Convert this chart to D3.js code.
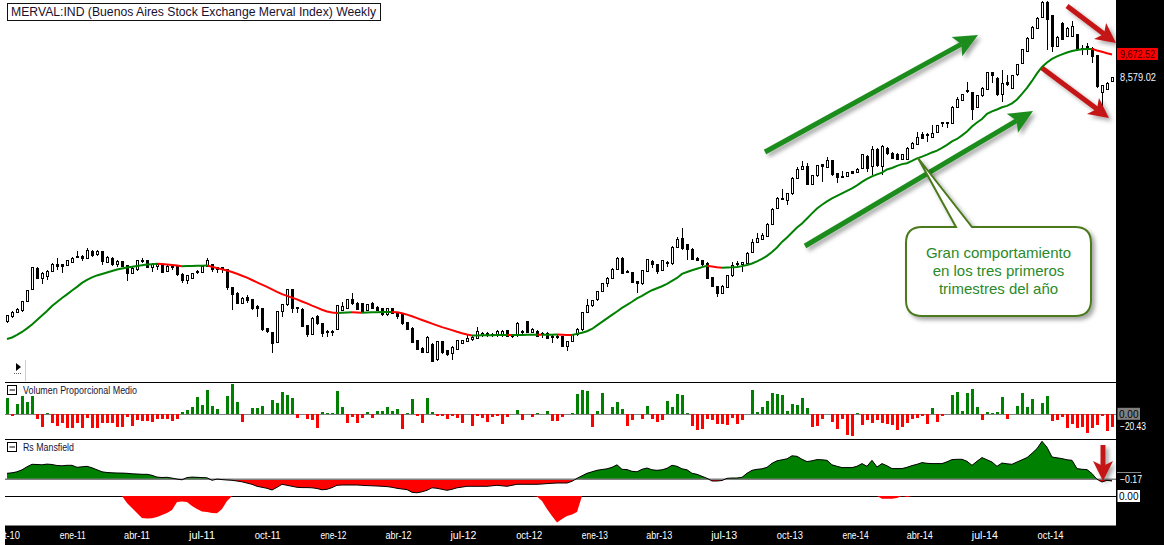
<!DOCTYPE html>
<html>
<head>
<meta charset="utf-8">
<script src="https://cdn.jsdelivr.net/npm/d3@7"></script>
<style>
body { margin: 0; background: #fff; }
svg text { font-family: "Liberation Sans", Arial, sans-serif; }
</style>
</head>
<body>
<svg id="chart" width="1164" height="545"></svg>
<script>
// weekly bars, Oct 2010 - Dec 2014 (Merval, log price)
const open = [2471,2539,2596,2626,2741,2909,3250,3088,3114,3194,3317,3305,3294,3351,3443,3448,3420,3537,3478,3537,
3351,3420,3305,3361,3294,3168,3221,3373,3373,3260,3284,3305,3194,3272,3277,3152,3050,3088,3189,3184,
3277,3317,3221,3260,3221,2944,2861,2718,2796,2764,2672,2640,2384,2345,2228,2604,2695,2909,2649,2636,
2422,2321,2539,2446,2357,2348,2381,2626,2649,2764,2718,2709,2617,2709,2663,2649,2561,2649,2583,2561,
2463,2393,2243,2161,2113,2206,2035,2235,2131,2099,2150,2217,2235,2254,2274,2301,2333,2309,2301,2301,
2364,2298,2301,2348,2475,2340,2352,2321,2333,2298,2281,2293,2179,2235,2313,2372,2591,2681,2764,2884,
3000,3088,3233,3420,3189,3178,3035,3000,3194,3361,3305,3210,3339,3322,3617,3787,3661,3580,3420,3378,
3334,3098,2959,2861,2950,3125,3305,3305,3334,3519,3704,3768,3819,4068,4414,4645,4588,4749,5143,5385,
5458,4989,5205,5506,5441,5626,5258,5188,5188,5320,5293,5413,5744,5458,5941,5458,5994,5844,5794,5667,
5667,5994,6119,6416,6406,6341,6492,6797,6821,6811,7390,7641,8021,7961,7390,7829,8098,8817,8568,7869,
8378,8141,8714,9250,9809,10508,11058,11697,12601,11776,10068,11344,10595,10595,10687,9949,10068,9983,9601,7961,
8099,8420];
const high = [2561,2613,2649,2754,2909,3277,3263,3181,3221,3331,3420,3322,3390,3443,3549,3478,3595,3567,3558,3549,
3452,3437,3390,3373,3305,3267,3390,3431,3390,3334,3322,3317,3297,3317,3289,3165,3141,3173,3221,3289,
3425,3327,3277,3277,3233,2955,2873,2800,2837,2778,2695,2649,2397,2352,2613,2709,2920,2924,2672,2647,
2434,2529,2561,2459,2372,2372,2695,2741,2778,2861,2741,2723,2709,2741,2677,2660,2660,2660,2594,2574,
2471,2403,2254,2172,2295,2215,2246,2246,2142,2181,2254,2254,2313,2295,2413,2342,2342,2333,2372,2366,
2372,2325,2465,2372,2484,2391,2372,2352,2342,2313,2313,2301,2243,2325,2391,2600,2774,2764,2895,3011,
3101,3246,3437,3434,3213,3194,3046,3221,3407,3390,3322,3395,3378,3632,3807,3985,3679,3595,3434,3390,
3348,3109,2970,2977,3141,3361,3378,3356,3523,3768,3897,3897,4085,4409,4664,4863,4773,5164,5458,5626,
5553,5231,5506,5534,5721,5646,5285,5346,5320,5346,5413,5823,5779,6066,6003,6081,6035,5867,5861,5823,
6019,6200,6524,6524,6492,6752,6752,6866,6866,7420,7801,7909,8420,8001,7869,8175,8848,8848,8603,8937,
8714,8714,9217,9949,10551,11161,11685,12677,12677,11836,10606,11391,11104,11494,10742,10156,10275,10025,9651,8281,
8387,8600];
const low = [2453,2522,2583,2604,2736,2902,3077,2996,3061,3184,3221,3168,3280,3339,3434,3373,3407,3448,3461,3305,
3339,3294,3277,3267,3050,3157,3205,3334,3250,3194,3221,3173,3184,3221,3130,3020,2996,3077,3157,3173,
3267,3194,3168,3168,2909,2626,2709,2709,2718,2626,2539,2360,2333,2107,2217,2539,2685,2583,2583,2403,
2293,2313,2434,2286,2293,2301,2372,2613,2640,2695,2626,2594,2607,2640,2607,2548,2548,2574,2505,2434,
2368,2215,2139,2105,2105,2011,2024,2099,2078,2035,2142,2209,2226,2243,2266,2289,2289,2289,2289,2289,
2283,2278,2289,2325,2331,2331,2283,2274,2266,2217,2262,2170,2134,2226,2301,2364,2583,2672,2754,2873,
2959,3077,3221,3157,3173,3008,2861,2985,3181,3250,3157,3197,3277,3305,3604,3567,3390,3390,3365,3289,
3077,2947,2812,2851,2939,3114,3289,3194,3322,3505,3689,3754,3803,4054,4398,4604,4489,4725,5125,5365,
4972,4972,5178,5055,5421,5205,5015,5151,5165,5245,5271,5393,5320,5232,5450,5232,5794,5676,5646,5646,
5646,5972,6097,6285,6200,6318,6466,6693,6638,6786,7363,7611,7961,6924,7363,7789,8069,8353,7829,7603,
8239,8111,8670,9217,9770,10470,11017,11655,9897,9813,10025,10415,10551,10551,9848,9651,9651,9250,8154,7428,
8069,8387];
const close = [2548,2596,2630,2741,2895,3260,3088,3157,3194,3317,3277,3277,3373,3420,3455,3407,3549,3466,3537,3361,
3431,3317,3361,3277,3168,3250,3373,3385,3260,3317,3305,3184,3277,3284,3152,3050,3125,3157,3200,3277,
3373,3221,3260,3221,2944,2847,2718,2788,2750,2640,2640,2372,2352,2217,2604,2695,2909,2649,2658,2413,
2313,2518,2455,2333,2348,2357,2681,2672,2764,2718,2636,2604,2695,2649,2617,2561,2649,2583,2539,2446,
2381,2224,2150,2113,2286,2017,2235,2113,2088,2172,2246,2246,2274,2286,2352,2333,2301,2317,2352,2352,
2293,2307,2455,2357,2340,2381,2293,2328,2274,2289,2289,2179,2235,2313,2381,2591,2681,2754,2884,3000,
3088,3233,3420,3168,3200,3020,3000,3210,3390,3305,3194,3378,3351,3617,3768,3599,3567,3402,3378,3305,
3088,2959,2861,2959,3125,3289,3334,3344,3508,3704,3787,3832,4068,4391,4645,4621,4749,5143,5385,5458,
4989,5205,5478,5458,5626,5231,5170,5170,5293,5276,5385,5794,5413,5941,5486,6044,5823,5696,5667,5794,
5994,6150,6328,6308,6426,6472,6718,6821,6797,7390,7668,7869,8049,7287,7829,8141,8817,8670,7869,8353,
8281,8670,9171,9897,10508,11115,11636,12601,11534,10068,10562,10453,11058,11150,9897,9918,9897,9567,8209,8239,
8353,8579.02];
const movingAvg = [2266,2283,2313,2348,2391,2440,2496,2554,2613,2681,2736,2793,2844,2902,2955,3015,3061,3101,3133,3157,
3181,3205,3229,3246,3263,3275,3289,3300,3311,3318,3324,3320,3312,3303,3294,3285,3287,3289,3291,3293,
3294,3275,3252,3232,3213,3189,3160,3128,3098,3061,3023,2988,2955,2917,2880,2847,2822,2798,2772,2743,
2716,2685,2658,2630,2606,2594,2588,2590,2593,2595,2593,2591,2593,2595,2597,2599,2600,2601,2597,2584,
2565,2543,2520,2496,2473,2450,2428,2406,2388,2370,2350,2332,2318,2306,2307,2308,2309,2310,2311,2312,
2313,2311,2312,2313,2314,2315,2316,2314,2315,2316,2317,2315,2313,2311,2325,2339,2357,2384,2428,2471,
2516,2561,2607,2654,2695,2739,2787,2822,2865,2905,2935,2965,3000,3046,3093,3157,3189,3216,3241,3268,
3292,3280,3268,3259,3262,3266,3272,3285,3305,3329,3365,3408,3461,3532,3614,3717,3803,3901,4002,4085,
4190,4299,4409,4494,4570,4640,4700,4761,4821,4883,4959,5047,5125,5191,5245,5293,5379,5421,5477,5528,
5553,5618,5690,5743,5802,5867,5920,6003,6096,6205,6285,6400,6531,6700,6838,6960,7142,7233,7306,7390,
7439,7535,7688,7909,8154,8450,8781,9076,9287,9453,9575,9673,9771,9844,9893,9929,9945,9950,9869,9805,
9732,9672.52];
const volumeProp = [26.4,-2,16.5,30.7,20.8,30.7,-7.7,-20.4,2.8,-13.8,-19.2,-13.8,-23.1,-23.1,-13.8,-23.1,-6.6,-23.1,-22,-14.9,
-13.8,-13.8,-20.4,-20.4,-3.9,-18.7,-9.4,-11,-11,-12.1,-8.3,-8.3,-8.3,-10.5,-8.3,4.4,7.2,12.7,29.2,15.4,
40.2,13.8,8.8,0,30.8,49.5,20.9,-12.1,0,11,9.9,14.3,0,23.7,18.2,37.4,31.9,27.5,-5.5,0,
-7.7,-9.4,-23.1,4.4,2.2,2.2,38.5,12.7,-13.8,-3.9,-13.8,-5.5,4.4,-6.6,5.5,5.5,12.1,5.5,8.8,-23.7,
2.8,25.9,-2.2,-14.3,27.5,3.3,-2.2,-2.2,-7.2,-2.2,-5.5,-14.3,0,-19.2,-2.2,-5.5,-12.7,-4.4,-2.2,-15.4,
-4.4,0,7.7,-8.8,0,-4.4,1.7,0,6,-11,-11,-4.4,0,1.7,33,40.7,38,-20.9,5,35.8,
0,12.1,19.8,8.8,-19.2,-9.4,0,-7.7,13.2,-7.7,-12.7,-9.4,21.5,12.1,33,31.4,2.2,-19.2,-25.9,-24.2,
-7.7,-9.4,-16,-16,-17.6,-6,-16,-9.4,0,39.6,3.3,11.6,21.5,34.7,33,31.4,5,16.5,14.9,26.4,
9.9,-20.9,-19.2,-7.7,0,-12.7,-24.2,-7.7,-34.1,-35.8,1.7,-17.6,-9.4,-14.3,-9.4,-14.3,-16,-17.6,-25.9,-20.9,
-14.3,-7.7,-6,-2.2,-16,9.9,-12.7,-2.2,0,31.4,36.3,5.5,35.8,41.8,11.6,-9.4,3.9,2.8,3.9,28.6,
-7.2,0,13.8,35.2,12.1,25.3,0,18.7,30.8,-10.5,-8.8,-3.9,-22,-15.4,-22,-20.4,-30.3,-22,-17.1,-2.2,
-27,-20.43];
const rsMansfield = [0.6,0.65,0.75,0.95,1.25,1.5,1.48,1.45,1.52,1.48,1.38,1.35,1.4,1.4,1.2,1.25,1.3,1.15,0.95,0.75,
0.68,0.65,0.63,0.62,0.6,0.55,0.53,0.5,0.5,0.4,0.22,0.18,0.2,0.12,0.02,-0.05,0.17,0.22,0.2,0.17,
0.15,-0.1,0.02,-0.03,-0.07,-0.1,-0.17,-0.25,-0.38,-0.5,-0.7,-0.8,-0.9,-1.07,-0.8,-0.5,-0.6,-0.7,-0.8,-0.83,
-0.83,-0.85,-0.92,-1.05,-1,-0.83,-0.6,-0.57,-0.57,-0.57,-0.57,-0.6,-0.63,-0.65,-0.67,-0.7,-0.73,-0.8,-0.9,-0.97,
-1.03,-1.3,-1.35,-1.25,-1.1,-0.85,-0.9,-1,-1.1,-1,-0.85,-0.78,-0.7,-0.7,-0.7,-0.7,-0.7,-0.65,-0.6,-0.65,
-0.7,-0.6,-0.5,-0.5,-0.5,-0.5,-0.5,-0.47,-0.43,-0.4,-0.37,-0.37,-0.37,-0.2,0.1,0.35,0.6,0.75,0.9,0.98,
1.05,1.2,1.45,1,0.97,0.8,0.75,1,1.13,0.95,0.9,0.95,1.1,1.4,1.3,1.05,0.95,0.6,0.5,0.3,
0.1,-0.17,-0.17,-0.12,0.1,0.13,0.13,0.2,0.6,0.9,1,1.05,1.2,1.6,1.85,1.95,2.05,2.35,2.3,2,
1.77,1.85,1.97,1.95,1.9,1.45,1.3,1.17,1.17,1.17,1.3,1.57,1.3,1.9,1.23,1.57,1.35,1.07,1.07,1.07,
1.2,1.37,1.5,1.67,1.6,1.57,1.57,1.57,1.75,1.97,2,2,1.8,1.4,1.8,2.17,1.95,1.73,1.3,1.63,
1.55,1.5,1.73,1.95,2.17,2.6,3.07,3.8,3.2,2.23,2.15,2.07,1.95,1.9,1.07,1,0.97,0.57,0,-0.27,
-0.1,-0.17];
// lower strip under Rs Mansfield (only negative stretches)
const rsLower = [0,0,0,0,0,0,0,0,0,0,0,0,0,0,0,0,0,0,0,0,
0,0,0,0,-0.7,-1.2,-1.7,-2.2,-2.25,-2.23,-2.1,-1.9,-1.7,-1.4,-0.6,-0.55,-0.6,-1,-1.3,-1.55,
-1.6,-1.7,-1.73,-1.3,-0.5,0,0,0,0,0,0,0,0,0,0,0,0,0,0,0,
0,0,0,0,0,0,0,0,0,0,0,0,0,0,0,0,0,0,0,0,
0,0,0,0,0,0,0,0,0,0,0,0,0,0,0,0,0,0,0,0,
0,0,0,0,0,0,-0.05,-0.5,-1.3,-2,-2.65,-2.3,-2,-1.85,-1.6,0,0,0,0,0,
0,0,0,0,0,0,0,0,0,0,0,0,0,0,0,0,0,0,0,0,
0,0,0,0,0,0,0,0,0,0,0,0,0,0,0,0,0,0,0,0,
0,0,0,0,0,0,0,0,0,0,0,0,0,0,0,-0.27,-0.27,-0.27,-0.2,0,
-0.1,0,0,0,0,0,0,0,0,0,0,0,0,0,0,0,0,0,0,0,
0,0,0,0,0,0,0,0,0,0,0,0,0,0,0,0,0,0,0,0,
0,0];
const tickLabels = ["oct-10","ene-11","abr-11","jul-11","oct-11","ene-12","abr-12","jul-12","oct-12",
  "ene-13","abr-13","jul-13","oct-13","ene-14","abr-14","jul-14","oct-14"];
const chartTitle = "MERVAL:IND (Buenos Aires Stock Exchange Merval Index) Weekly";
const calloutLines = ["Gran comportamiento", "en los tres primeros", "trimestres del año"];

const n = close.length;
const dates = d3.timeFriday.range(new Date(2010, 9, 1), new Date(2014, 11, 27)).slice(0, n);
const idx = d3.range(n);

const svg = d3.select("#chart");
const defs = svg.append("defs");
const sh = defs.append("filter").attr("id", "shadow").attr("x", "-30%").attr("y", "-30%").attr("width", "170%").attr("height", "170%");
sh.append("feDropShadow").attr("dx", 3).attr("dy", 3).attr("stdDeviation", 2)
  .attr("flood-color", "#000").attr("flood-opacity", 0.35);

const L = 5, R = 1116;
const x = d3.scaleTime().domain([dates[0], dates[n - 1]]).range([7, 1112]);
const y = d3.scaleLog().domain([2000, 13000]).range([363.4, -3.5]);
const yVol = d3.scaleLinear().domain([-40, 40]).range([438.5, 390.1]);
const yRs = d3.scaleLinear().domain([-4, 4]).range([519.3, 439.3]);
const yLow = d3.scaleLinear().domain([-3, 0]).range([526, 496]);
const xi = i => Math.round(x(dates[i]));

// clip regions
defs.append("clipPath").attr("id", "cMain").append("rect").attr("x", L).attr("y", 0).attr("width", R - L).attr("height", 382);
defs.append("clipPath").attr("id", "cUp").append("rect").attr("x", L).attr("y", 439).attr("width", R - L).attr("height", yRs(0) - 439);
defs.append("clipPath").attr("id", "cDn").append("rect").attr("x", L).attr("y", yRs(0)).attr("width", R - L).attr("height", 496 - yRs(0));
defs.append("clipPath").attr("id", "cAxis").append("rect").attr("x", L).attr("y", 520).attr("width", R - L).attr("height", 30);

// ---- price panel ----
const main = svg.append("g").attr("clip-path", "url(#cMain)");
const candles = main.append("g").attr("shape-rendering", "crispEdges");
candles.selectAll("line.wick").data(idx).join("line")
  .attr("class", "wick")
  .attr("x1", i => xi(i) + 0.5).attr("x2", i => xi(i) + 0.5)
  .attr("y1", i => y(high[i])).attr("y2", i => y(low[i]))
  .attr("stroke", "#000");
candles.selectAll("rect").data(idx).join("rect")
  .attr("x", i => xi(i) - 0.5)
  .attr("width", 2)
  .attr("y", i => y(Math.max(open[i], close[i])))
  .attr("height", i => Math.max(1, Math.abs(y(open[i]) - y(close[i]))))
  .attr("fill", i => close[i] >= open[i] ? "#fff" : "#000")
  .attr("stroke", "#000");

// moving average, green while rising, red while falling
const runs = [];
let cur = null;
for (let i = 1; i < n; i++) {
  const c = movingAvg[i] >= movingAvg[i - 1] ? "#008000" : "#ff0000";
  if (!cur || cur.color !== c) { cur = { color: c, pts: [i - 1] }; runs.push(cur); }
  cur.pts.push(i);
}
const maLine = d3.line().x(i => x(dates[i])).y(i => y(movingAvg[i]));
main.selectAll("path.ma").data(runs).join("path")
  .attr("class", "ma")
  .attr("d", r => maLine(r.pts))
  .attr("fill", "none").attr("stroke", r => r.color).attr("stroke-width", 2);

// title box
svg.append("rect").attr("x", 7.5).attr("y", 3.5).attr("width", 373).attr("height", 17)
  .attr("fill", "#fff").attr("stroke", "#111").attr("shape-rendering", "crispEdges");
svg.append("text").attr("x", 11).attr("y", 16).attr("font-size", 12).attr("fill", "#1a1030")
  .attr("textLength", 365).attr("lengthAdjust", "spacingAndGlyphs").text(chartTitle);

// small play marker
svg.append("path").attr("d", "M16,363 L21,367 L16,371 Z").attr("fill", "#000");
svg.append("line").attr("x1", 14).attr("x2", 22).attr("y1", 373.5).attr("y2", 373.5)
  .attr("stroke", "#666").attr("stroke-dasharray", "1,1");
svg.append("line").attr("x1", 25.5).attr("x2", 25.5).attr("y1", 360).attr("y2", 381).attr("stroke", "#ccc");

// ---- panel separators ----
const seps = svg.append("g").attr("shape-rendering", "crispEdges");
[382.5, 439.5, 496.5].forEach(v => seps.append("line").attr("x1", L).attr("x2", R).attr("y1", v).attr("y2", v).attr("stroke", "#000"));

// ---- volume panel ----
const vol = svg.append("g").attr("shape-rendering", "crispEdges");
vol.append("line").attr("x1", L).attr("x2", R).attr("y1", yVol(0)).attr("y2", yVol(0)).attr("stroke", "#808080").attr("stroke-width", 1.5);
vol.selectAll("rect").data(idx.filter(i => volumeProp[i] !== 0)).join("rect")
  .attr("x", i => xi(i) - 1)
  .attr("width", 3)
  .attr("y", i => Math.min(yVol(0), yVol(volumeProp[i])))
  .attr("height", i => Math.abs(yVol(volumeProp[i]) - yVol(0)))
  .attr("fill", i => volumeProp[i] > 0 ? "#008000" : "#ff0000");

function panelTitle(ty, label, w) {
  svg.append("rect").attr("x", 7.5).attr("y", ty - 8.5).attr("width", 9).attr("height", 9)
    .attr("fill", "#fff").attr("stroke", "#000").attr("shape-rendering", "crispEdges");
  svg.append("line").attr("x1", 9.5).attr("x2", 15).attr("y1", ty - 4).attr("y2", ty - 4).attr("stroke", "#000");
  svg.append("text").attr("x", 23).attr("y", ty).attr("font-size", 10).attr("fill", "#14143a")
    .attr("textLength", w).attr("lengthAdjust", "spacingAndGlyphs").text(label);
}
panelTitle(394, "Volumen Proporcional Medio", 114);

// ---- Rs Mansfield panel ----
const rsArea = d3.area().x(i => x(dates[i])).y0(yRs(0)).y1(i => yRs(rsMansfield[i]));
const rsLineGen = d3.line().x(i => x(dates[i])).y(i => yRs(rsMansfield[i]));
svg.append("path").attr("d", rsArea(idx)).attr("fill", "#008000").attr("clip-path", "url(#cUp)");
svg.append("path").attr("d", rsArea(idx)).attr("fill", "#ff0000").attr("clip-path", "url(#cDn)");
svg.append("line").attr("x1", L).attr("x2", R).attr("y1", yRs(0)).attr("y2", yRs(0))
  .attr("stroke", "#808080").attr("stroke-width", 1.5);
svg.append("path").attr("d", rsLineGen(idx)).attr("fill", "none").attr("stroke", "#000").attr("stroke-width", 1);
panelTitle(451, "Rs Mansfield", 51);

// lower strip
const lowArea = d3.area().x(i => x(dates[i])).y0(yLow(0)).y1(i => yLow(rsLower[i]));
svg.append("path").attr("d", lowArea(idx)).attr("fill", "#ff0000");

// ---- right-hand value bar & bottom axis strip ----
svg.append("rect").attr("x", R).attr("y", 0).attr("width", 1164 - R).attr("height", 545).attr("fill", "#000");
svg.append("rect").attr("x", L).attr("y", 525.5).attr("width", 1164 - L).attr("height", 20).attr("fill", "#000");

const tickDates = d3.timeMonth.every(3).range(new Date(2010, 9, 1), new Date(2014, 11, 1));
svg.append("g").attr("clip-path", "url(#cAxis)")
  .selectAll("text").data(tickDates).join("text")
  .attr("x", d => x(d)).attr("y", 539)
  .attr("text-anchor", "middle").attr("font-size", 10).attr("fill", "#fff")
  .attr("textLength", 26).attr("lengthAdjust", "spacingAndGlyphs")
  .text((d, i) => tickLabels[i]);

// value labels on the right
const lastMa = movingAvg[n - 1], lastClose = close[n - 1];
const fmt = d3.format(",.2f");
svg.append("rect").attr("x", 1117).attr("y", y(lastMa) - 6.5).attr("width", 41).attr("height", 12).attr("fill", "#ff0000");
svg.append("text").attr("x", 1120).attr("y", y(lastMa) + 3.5).attr("font-size", 10).attr("fill", "#3a0000")
  .attr("textLength", 35).attr("lengthAdjust", "spacingAndGlyphs").text(fmt(lastMa));
svg.append("text").attr("x", 1120).attr("y", y(lastClose) + 3.5).attr("font-size", 10).attr("fill", "#eef4ff")
  .attr("textLength", 36).attr("lengthAdjust", "spacingAndGlyphs").text(fmt(lastClose));

svg.append("rect").attr("x", 1117.5).attr("y", yVol(0) - 6.5).attr("width", 22.5).attr("height", 12).attr("fill", "#808080");
svg.append("text").attr("x", 1119).attr("y", yVol(0) + 3.5).attr("font-size", 10).attr("fill", "#000").text(fmt(0));
svg.append("text").attr("x", 1120).attr("y", yVol(volumeProp[n - 1]) + 3.5).attr("font-size", 10).attr("fill", "#fff")
  .attr("textLength", 26).attr("lengthAdjust", "spacingAndGlyphs").text(fmt(volumeProp[n - 1]));

svg.append("line").attr("x1", 1117).attr("x2", 1141).attr("y1", 472.5).attr("y2", 472.5).attr("stroke", "#888");
svg.append("text").attr("x", 1120).attr("y", yRs(rsMansfield[n - 1]) + 2).attr("font-size", 10).attr("fill", "#fff")
  .attr("textLength", 22).attr("lengthAdjust", "spacingAndGlyphs").text(fmt(rsMansfield[n - 1]));
svg.append("rect").attr("x", 1117.5).attr("y", yLow(0) - 6).attr("width", 22.5).attr("height", 12).attr("fill", "#fff");
svg.append("text").attr("x", 1119).attr("y", yLow(0) + 4).attr("font-size", 10).attr("fill", "#000").text(fmt(0));

// ---- annotations ----
function arrow(g, x1, y1, x2, y2, color, w, hl, hw) {
  const a = Math.atan2(y2 - y1, x2 - x1);
  const c = Math.cos(a), s = Math.sin(a);
  const bx = x2 - hl * c, by = y2 - hl * s;
  const nx = x2 - (hl - 5) * c, ny = y2 - (hl - 5) * s;
  const grp = g.append("g").attr("filter", "url(#shadow)");
  grp.append("line").attr("x1", x1).attr("y1", y1).attr("x2", nx).attr("y2", ny)
    .attr("stroke", color).attr("stroke-width", w);
  grp.append("polygon").attr("points", [
    [x2, y2], [bx - s * hw, by + c * hw], [nx, ny], [bx + s * hw, by - c * hw]
  ].map(p => p.join(",")).join(" ")).attr("fill", color);
}
const ann = svg.append("g");
arrow(ann, 765, 152, 978, 35, "#1f8c1f", 5, 24, 11);
arrow(ann, 805, 246, 1033, 111, "#1f8c1f", 5, 24, 11);
arrow(ann, 1067, 6, 1116, 43, "#c41414", 5, 20, 10);
arrow(ann, 1042, 68, 1109, 118, "#c41414", 5, 20, 10);
arrow(ann, 1103, 445, 1103, 481, "#c41414", 5, 20, 10);

// callout
const bx0 = 906, by0 = 227, bx1 = 1091, by1 = 316, r = 16;
const callout = d3.path();
callout.moveTo(bx0 + r, by0);
callout.lineTo(956, by0);
callout.lineTo(918, 158);
callout.lineTo(972, by0);
callout.lineTo(bx1 - r, by0);
callout.quadraticCurveTo(bx1, by0, bx1, by0 + r);
callout.lineTo(bx1, by1 - r);
callout.quadraticCurveTo(bx1, by1, bx1 - r, by1);
callout.lineTo(bx0 + r, by1);
callout.quadraticCurveTo(bx0, by1, bx0, by1 - r);
callout.lineTo(bx0, by0 + r);
callout.quadraticCurveTo(bx0, by0, bx0 + r, by0);
callout.closePath();
svg.append("path").attr("d", callout.toString()).attr("fill", "#fff")
  .attr("stroke", "#4b7a1f").attr("stroke-width", 2).attr("filter", "url(#shadow)");
svg.append("g").selectAll("text").data(calloutLines).join("text")
  .attr("x", 998.5).attr("y", (d, i) => 258 + i * 18)
  .attr("text-anchor", "middle").attr("font-size", 15).attr("fill", "#2a8a2a")
  .text(d => d);
</script>
</body>
</html>
